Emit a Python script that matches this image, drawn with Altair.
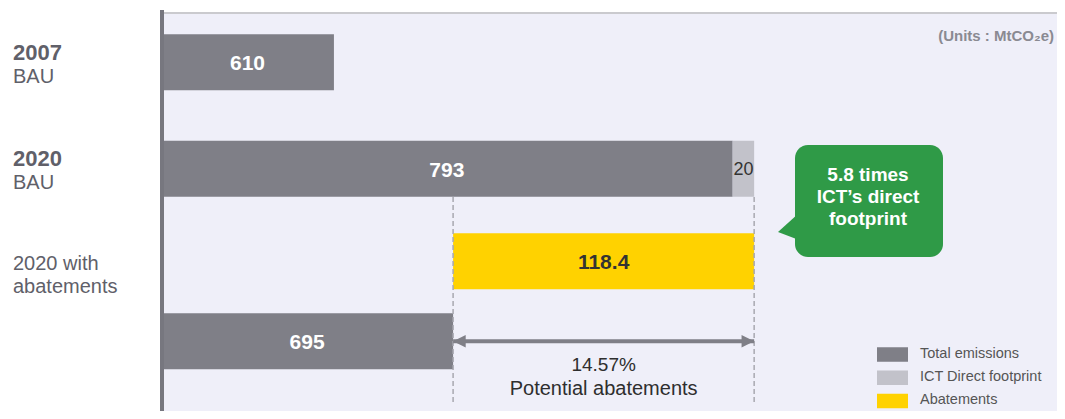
import altair as alt
import pandas as pd

# ---------------- data ----------------
row_ids = ["2007", "2020", "2020", "abate", "after"]
series = ["Total emissions", "Total emissions", "ICT Direct footprint", "Abatements", "Total emissions"]
values = [610, 793, 20, 118.4, 695]
# bar extents as drawn in the source graphic (it is not to scale), chart units 0-1000
bar_start = [0, 0, 638, 326, 0]
bar_end = [193, 638, 662, 662, 326]

legend_labels = ["Total emissions", "ICT Direct footprint", "Abatements"]
legend_colors = ["#7F7F87", "#C2C2CA", "#FFD200"]

top_rows = ["2007", "2020"]
bottom_rows = ["abate", "after"]
year_labels = ["2007", "2020"]
sub_labels = ["BAU", "BAU"]
abate_label_lines = ["2020 with", "abatements"]
abatement_pct = "14.57%"
abatement_caption = "Potential abatements"
callout_text = "5.8 times\nICT\u2019s direct\nfootprint"
units_text = "(Units : MtCO\u2082e)"

# ---------------- tables ----------------
bars = pd.DataFrame({
    "row": row_ids,
    "series": series,
    "label": [f"{v:g}" for v in values],
    "start": bar_start,
    "end": bar_end,
})
left_top = pd.DataFrame({"row": top_rows, "year": year_labels, "sub": sub_labels})
left_bottom = pd.DataFrame({"row": ["abate"], "l1": [abate_label_lines[0]], "l2": [abate_label_lines[1]]})
ab = bars[bars["row"] == "abate"].iloc[0]
arrow = pd.DataFrame({"row": ["after"], "start": [ab["start"]], "end": [ab["end"]],
                      "pct": [abatement_pct], "cap": [abatement_caption]})
legend_df = pd.DataFrame({"series": legend_labels})
one = pd.DataFrame({"t": [callout_text], "u": [units_text]})

FONT = "Liberation Sans"
xs = alt.Scale(domain=[0, 1000], nice=False, zero=True)
col = alt.Color("series:N", scale=alt.Scale(domain=legend_labels, range=legend_colors), legend=None)

yA = alt.Scale(domain=top_rows, range=[21.3, 183.7], paddingInner=0.474, paddingOuter=0)
yB = alt.Scale(domain=bottom_rows, range=[220.3, 356.3], paddingInner=0.3, paddingOuter=0)
yL = alt.Scale(domain=legend_labels, range=[334.25, 395.25], paddingInner=0.376, paddingOuter=0)

# ---------------- frame ----------------
top_line = alt.Chart(one).mark_rule(color="#CACACE", strokeWidth=2).encode(
    x=alt.value(0), x2=alt.value(896), y=alt.value(0))
axis_line = alt.Chart(one).mark_rule(color="#77777F", strokeWidth=4).encode(
    x=alt.value(1), y=alt.value(-3), y2=alt.value(398))

# ---------------- top group ----------------
baseA = alt.Chart(bars).transform_filter(alt.FieldOneOfPredicate(field="row", oneOf=top_rows))
barsA = baseA.mark_bar().encode(
    y=alt.Y("row:N", scale=yA, axis=None),
    x=alt.X("start:Q", scale=xs, axis=None), x2="end:Q", color=col)
lblA = baseA.transform_filter(alt.datum.series == "Total emissions").transform_calculate(
    mid="(datum.start + datum.end) / 2").mark_text(
    font=FONT, fontSize=21, fontWeight="bold", color="white", baseline="alphabetic", dy=8).encode(
    y=alt.Y("row:N", scale=yA, axis=None), x=alt.X("mid:Q", scale=xs, axis=None), text="label:N")
lblICT = baseA.transform_filter(alt.datum.series == "ICT Direct footprint").transform_calculate(
    mid="(datum.start + datum.end) / 2").mark_text(
    font=FONT, fontSize=18, color="#333333", baseline="alphabetic", dy=6.5).encode(
    y=alt.Y("row:N", scale=yA, axis=None), x=alt.X("mid:Q", scale=xs, axis=None), text="label:N")
yearA = alt.Chart(left_top).mark_text(
    font=FONT, fontSize=22, fontWeight="bold", color="#606069", align="left", baseline="alphabetic", dy=-2.5).encode(
    y=alt.Y("row:N", scale=yA, axis=None), x=alt.value(-148), text="year:N")
subA = alt.Chart(left_top).mark_text(
    font=FONT, fontSize=20, color="#606069", align="left", baseline="alphabetic", dy=20.5).encode(
    y=alt.Y("row:N", scale=yA, axis=None), x=alt.value(-148), text="sub:N")
groupA = alt.layer(barsA, lblA, lblICT, yearA, subA)

# ---------------- bottom group ----------------
baseB = alt.Chart(bars).transform_filter(alt.FieldOneOfPredicate(field="row", oneOf=bottom_rows))
barsB = baseB.mark_bar().encode(
    y=alt.Y("row:N", scale=yB, axis=None),
    x=alt.X("start:Q", scale=xs, axis=None), x2="end:Q", color=col)
lblB = baseB.transform_calculate(mid="(datum.start + datum.end) / 2").mark_text(
    font=FONT, fontSize=21, fontWeight="bold", baseline="alphabetic", dy=8).encode(
    y=alt.Y("row:N", scale=yB, axis=None), x=alt.X("mid:Q", scale=xs, axis=None), text="label:N",
    color=alt.condition(alt.datum.series == "Abatements", alt.value("#333333"), alt.value("white")))
dashes = alt.Chart(arrow).transform_fold(["start", "end"], as_=["k", "xv"]).mark_rule(
    color="#A8A8B0", strokeWidth=1.5, strokeDash=[5, 3]).encode(
    x=alt.X("xv:Q", scale=xs, axis=None), y=alt.value(184), y2=alt.value(391))
arrow_line = alt.Chart(arrow).mark_rule(color="#7F7F87", strokeWidth=4).encode(
    y=alt.Y("row:N", scale=yB, axis=None),
    x=alt.X("start:Q", scale=xs, axis=None), x2="end:Q")
head_l = alt.Chart(arrow).mark_point(
    shape="M0,0L1.8,-0.9L1.8,0.9Z", size=196, filled=True, opacity=1, color="#7F7F87").encode(
    y=alt.Y("row:N", scale=yB, axis=None), x=alt.X("start:Q", scale=xs, axis=None))
head_r = alt.Chart(arrow).mark_point(
    shape="M0,0L-1.8,-0.9L-1.8,0.9Z", size=196, filled=True, opacity=1, color="#7F7F87").encode(
    y=alt.Y("row:N", scale=yB, axis=None), x=alt.X("end:Q", scale=xs, axis=None))
pct_txt = alt.Chart(arrow).transform_calculate(mid="(datum.start + datum.end) / 2").mark_text(
    font=FONT, fontSize=19, color="#2E2E2E", baseline="alphabetic", dy=30).encode(
    y=alt.Y("row:N", scale=yB, axis=None), x=alt.X("mid:Q", scale=xs, axis=None), text="pct:N")
cap_txt = alt.Chart(arrow).transform_calculate(mid="(datum.start + datum.end) / 2").mark_text(
    font=FONT, fontSize=20, color="#2E2E2E", baseline="alphabetic", dy=54).encode(
    y=alt.Y("row:N", scale=yB, axis=None), x=alt.X("mid:Q", scale=xs, axis=None), text="cap:N")
l1B = alt.Chart(left_bottom).mark_text(
    font=FONT, fontSize=20, color="#606069", align="left", baseline="alphabetic", dy=8.3).encode(
    y=alt.Y("row:N", scale=yB, axis=None), x=alt.value(-148), text="l1:N")
l2B = alt.Chart(left_bottom).mark_text(
    font=FONT, fontSize=20, color="#606069", align="left", baseline="alphabetic", dy=31.7).encode(
    y=alt.Y("row:N", scale=yB, axis=None), x=alt.value(-148), text="l2:N")
groupB = alt.layer(barsB, dashes, arrow_line, head_l, head_r, lblB, pct_txt, cap_txt, l1B, l2B)

# ---------------- legend ----------------
leg_sw = alt.Chart(legend_df).mark_rect().encode(
    y=alt.Y("series:N", scale=yL, axis=None), x=alt.value(716), x2=alt.value(747), color=col)
leg_tx = alt.Chart(legend_df).mark_text(
    font=FONT, fontSize=14.5, color="#555555", align="left", baseline="middle", dy=-1).encode(
    y=alt.Y("series:N", scale=yL, axis=None), x=alt.value(759), text="series:N")
groupL = alt.layer(leg_sw, leg_tx)

# ---------------- callout & units ----------------
bubble = alt.Chart(one).mark_rect(color="#2F9A47", cornerRadius=13).encode(
    x=alt.value(634), x2=alt.value(782), y=alt.value(132), y2=alt.value(244))
tail = alt.Chart(one).mark_point(
    shape="M-0.9,0.6L1.2,-1.3L1.2,1.4Z", size=400, filled=True, opacity=1, color="#2F9A47").encode(
    x=alt.value(626), y=alt.value(213))
bubble_txt = alt.Chart(one).mark_text(
    font=FONT, fontSize=19, fontWeight="bold", color="white", lineBreak="\n", lineHeight=22,
    baseline="middle").encode(x=alt.value(707), y=alt.value(162), text="t:N")
units = alt.Chart(one).mark_text(
    font=FONT, fontSize=15, fontWeight="bold", color="#8A8A92", align="right", baseline="middle").encode(
    x=alt.value(893), y=alt.value(23), text="u:N")

chart = alt.layer(
    top_line, groupA, groupB, groupL, bubble, tail, bubble_txt, units, axis_line
).resolve_scale(y="independent").properties(
    width=896, height=398,
    padding={"left": 153, "top": 5, "right": 0, "bottom": 0},
    autosize=alt.AutoSizeParams(type="none"),
).configure_view(fill="#EFEFF9", stroke="transparent")

chart.save("out.html", embed_options={"renderer": "svg", "actions": False})
